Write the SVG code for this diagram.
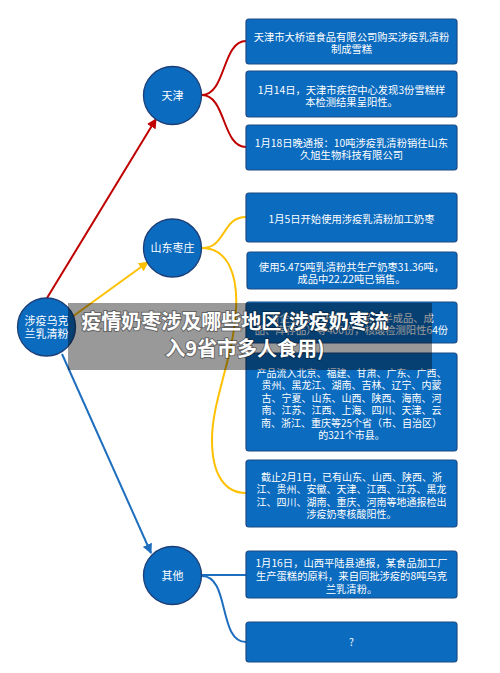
<svg xmlns="http://www.w3.org/2000/svg" width="500" height="673" viewBox="0 0 500 673">
<defs>
<style>
.box{fill:#0b6bbf;stroke:#1b4a86;stroke-width:1.2}
.node{fill:#0b6bbf;stroke:#1c3f78;stroke-width:1.3}
.t{font-family:"Noto Sans CJK SC","Noto Sans",sans-serif;font-size:10.3px;fill:#ffffff;text-anchor:middle}
.s{font-size:10px}
.n{font-family:"Noto Sans CJK SC","Noto Sans",sans-serif;font-size:11px;fill:#ffffff;text-anchor:middle}
.red{stroke:#c00000;stroke-width:2;fill:none}
.yel{stroke:#ffc000;stroke-width:2;fill:none}
.blu{stroke:#1e6ec0;stroke-width:2;fill:none}
.title{font-family:"Noto Sans CJK SC","Noto Sans",sans-serif;font-size:20px;font-weight:bold;fill:#ffffff;text-anchor:middle;stroke:rgba(0,0,0,0.35);stroke-width:2;paint-order:stroke}
</style>
<marker id="ar" viewBox="0 0 10 10" refX="9" refY="5" markerWidth="5" markerHeight="5" orient="auto-start-reverse"><path d="M0,0 L10,5 L0,10 z" fill="#c00000"/></marker>
<marker id="ay" viewBox="0 0 10 10" refX="9" refY="5" markerWidth="5" markerHeight="5" orient="auto-start-reverse"><path d="M0,0 L10,5 L0,10 z" fill="#ffc000"/></marker>
<marker id="ab" viewBox="0 0 10 10" refX="9" refY="5" markerWidth="5" markerHeight="5" orient="auto-start-reverse"><path d="M0,0 L10,5 L0,10 z" fill="#1e6ec0"/></marker>
</defs>
<rect width="500" height="673" fill="#ffffff"/>
<g id="connectors">
<path class="red" d="M47,298 L156,119" marker-end="url(#ar)"/>
<path class="yel" d="M72,317 L148,262" marker-end="url(#ay)"/>
<path class="blu" d="M62,354 L151,553" marker-end="url(#ab)"/>
<path class="red" d="M202,95 C226,95 222,41 246,41"/>
<path class="red" d="M202,95 C226,95 222,147 246,147"/>
<path class="yel" d="M202,248 C226,248 222,217 246,217"/>
<path class="yel" d="M202,248 C228,248 238,275 236,310 C233,360 212,400 212,440 C212,475 225,493 246,493"/>
<path class="blu" d="M202,575 L246,575"/>
<path class="blu" d="M202,576 C230,576 218,642 246,642"/>
</g>
<g id="root"><circle class="node" cx="46.5" cy="327" r="29"/><text class="n" x="46.5" y="325">涉疫乌克</text><text class="n" x="46.5" y="338">兰乳清粉</text></g>
<g id="tianjin"><circle class="node" cx="172.5" cy="95.5" r="29"/><text class="n" x="172.5" y="99.5">天津</text></g>
<g id="shandong"><circle class="node" cx="172.5" cy="248" r="29"/><text class="n" x="172.5" y="252">山东枣庄</text></g>
<g id="other"><circle class="node" cx="172.5" cy="575.5" r="29"/><text class="n" x="172.5" y="579.5">其他</text></g>
<g id="box1"><rect class="box" x="246" y="19" width="211" height="45" rx="3"/><text class="t" x="351.5" y="40.5">天津市大桥道食品有限公司购买涉疫乳清粉</text><text class="t" x="351.5" y="53">制成雪糕</text></g>
<g id="box2"><rect class="box" x="246" y="71" width="211" height="46" rx="3"/><text class="t" x="351.5" y="94">1月14日，天津市疾控中心发现3份雪糕样</text><text class="t" x="351.5" y="106">本检测结果呈阳性。</text></g>
<g id="box3"><rect class="box" x="246" y="125" width="211" height="45" rx="3"/><text class="t" x="351.5" y="147">1月18日晚通报：10吨涉疫乳清粉销往山东</text><text class="t" x="351.5" y="159">久旭生物科技有限公司</text></g>
<g id="box4"><rect class="box" x="246" y="193" width="211" height="49" rx="3"/><text class="t" x="351.5" y="223">1月5日开始使用涉疫乳清粉加工奶枣</text></g>
<g id="box5"><rect class="box" x="247" y="252" width="210" height="37" rx="3"/><text class="t" x="351.5" y="271">使用5.475吨乳清粉共生产奶枣31.36吨，</text><text class="t" x="351.5" y="283">成品中22.22吨已销售。</text></g>
<g id="box6"><rect class="box" x="246" y="302" width="211" height="41" rx="3"/><text class="t" x="351.5" y="322">对企业内外环境、产品（半成品、成</text><text class="t" x="351.5" y="334">品、库存品）等400份，核酸检测阳性64份</text></g>
<g id="box7"><rect class="box" x="246" y="353" width="211" height="98" rx="3"/>
<text class="t s" x="351.5" y="376.5">产品流入北京、福建、甘肃、广东、广西、</text>
<text class="t s" x="351.5" y="389">贵州、黑龙江、湖南、吉林、辽宁、内蒙</text>
<text class="t s" x="351.5" y="401.5">古、宁夏、山东、山西、陕西、海南、河</text>
<text class="t s" x="351.5" y="414">南、江苏、江西、上海、四川、天津、云</text>
<text class="t s" x="351.5" y="426.5">南、浙江、重庆等25个省（市、自治区）</text>
<text class="t s" x="351.5" y="439">的321个市县。</text></g>
<g id="box8"><rect class="box" x="246" y="460" width="211" height="67" rx="3"/>
<text class="t s" x="351.5" y="480.5">截止2月1日，已有山东、山西、陕西、浙</text>
<text class="t s" x="351.5" y="493">江、贵州、安徽、天津、江西、江苏、黑龙</text>
<text class="t s" x="351.5" y="505.5">江、四川、湖南、重庆、河南等地通报检出</text>
<text class="t s" x="351.5" y="518">涉疫奶枣核酸阳性。</text></g>
<g id="box9"><rect class="box" x="246" y="551" width="211" height="47" rx="3"/>
<text class="t" x="351.5" y="567">1月16日，山西平陆县通报，某食品加工厂</text>
<text class="t" x="351.5" y="580">生产蛋糕的原料，来自同批涉疫的8吨乌克</text>
<text class="t" x="351.5" y="593">兰乳清粉。</text></g>
<g id="box10"><rect class="box" x="246" y="622" width="211" height="40" rx="3"/><text class="t" x="351.5" y="646">?</text></g>
<g id="banner"><rect x="68" y="303" width="364" height="67" fill="#000000" fill-opacity="0.4"/>
<text class="title" x="235" y="329">疫情奶枣涉及哪些地区(涉疫奶枣流</text>
<text class="title" x="245" y="356">入9省市多人食用)</text></g>
</svg>
